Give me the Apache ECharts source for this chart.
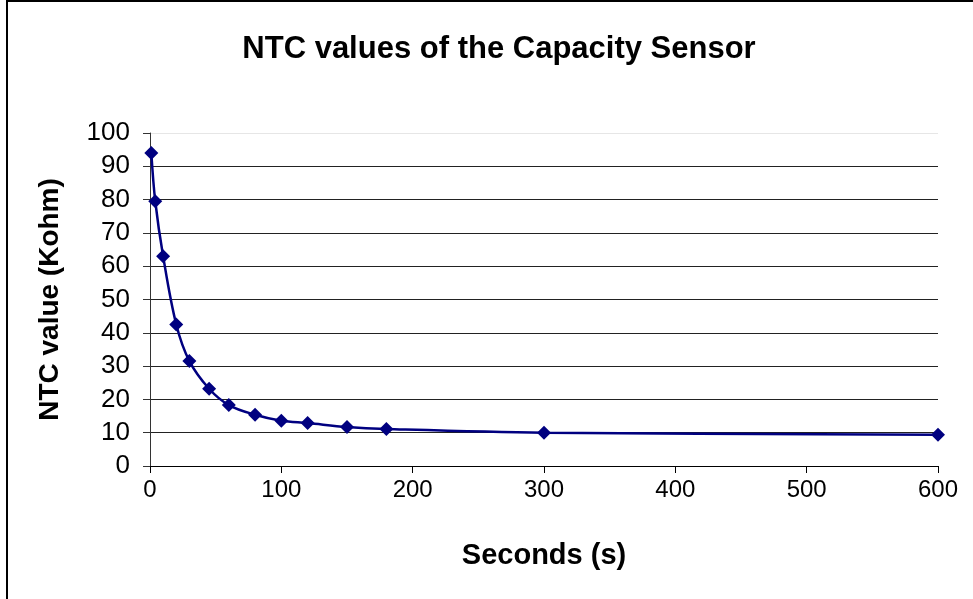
<!DOCTYPE html>
<html>
<head>
<meta charset="utf-8">
<script src="https://cdn.jsdelivr.net/npm/echarts@6/dist/echarts.min.js"></script>
<style>
html,body{margin:0;padding:0;background:#fff;}
#chart{width:973px;height:599px;}
</style>
</head>
<body>
<div id="chart"></div>
<script>
var seconds = [1, 4, 10, 20, 30, 45, 60, 80, 100, 120, 150, 180, 300, 600];
var ntcValues = [94, 79.5, 63, 42.5, 31.5, 23.2, 18.3, 15.4, 13.6, 12.9, 11.7, 11.1, 10.0, 9.4];
var xTicks = [0, 100, 200, 300, 400, 500, 600];
var yTicks = [0, 10, 20, 30, 40, 50, 60, 70, 80, 90, 100];
var titleText = 'NTC values of the Capacity Sensor';
var xName = 'Seconds (s)';
var yName = 'NTC value (Kohm)';

var FONT = '"Liberation Sans", Arial, sans-serif';
var chart = echarts.init(document.getElementById('chart'), null, {renderer: 'canvas'});
var points = seconds.map(function (s, i) { return [s, ntcValues[i]]; });
var gridColors = yTicks.map(function (v) { return v === yTicks[yTicks.length - 1] ? '#e6e6e6' : '#222'; });

chart.setOption({
  animation: false,
  backgroundColor: '#fff',
  graphic: [
    {type: 'rect', shape: {x: 7, y: 1, width: 1000, height: 700}, style: {fill: 'none', stroke: '#000', lineWidth: 2}, z: 100},
    {type: 'text', style: {text: titleText, x: 499, y: 49, align: 'center', verticalAlign: 'middle', font: 'bold 31px ' + FONT, fill: '#000'}}
  ],
  grid: {left: 150, right: 35, top: 133, bottom: 133, containLabel: false},
  xAxis: {
    type: 'value', min: xTicks[0], max: xTicks[xTicks.length - 1], interval: 100,
    name: xName, nameLocation: 'middle', nameGap: 75,
    nameTextStyle: {fontFamily: FONT, fontWeight: 'bold', fontSize: 29, color: '#000'},
    axisLine: {show: true, lineStyle: {color: '#000', width: 1}},
    axisTick: {show: true, inside: false, length: 7, lineStyle: {color: '#000'}},
    axisLabel: {fontFamily: FONT, fontSize: 24, color: '#000', margin: 12},
    splitLine: {show: false}
  },
  yAxis: {
    type: 'value', min: yTicks[0], max: yTicks[yTicks.length - 1], interval: 10,
    name: yName, nameLocation: 'middle', nameGap: 86,
    nameTextStyle: {fontFamily: FONT, fontWeight: 'bold', fontSize: 28, color: '#000'},
    axisLine: {show: true, lineStyle: {color: '#333', width: 1}},
    axisTick: {show: true, inside: false, length: 7, lineStyle: {color: '#333'}},
    axisLabel: {fontFamily: FONT, fontSize: 26, color: '#000', margin: 20},
    splitLine: {show: true, lineStyle: {color: gridColors, width: 1}}
  },
  series: [{
    type: 'line',
    data: points,
    smooth: 0.35,
    symbol: 'diamond',
    symbolSize: 14,
    showSymbol: true,
    lineStyle: {color: '#000080', width: 2.5},
    itemStyle: {color: '#000080'},
    z: 5
  }]
});
</script>
</body>
</html>
